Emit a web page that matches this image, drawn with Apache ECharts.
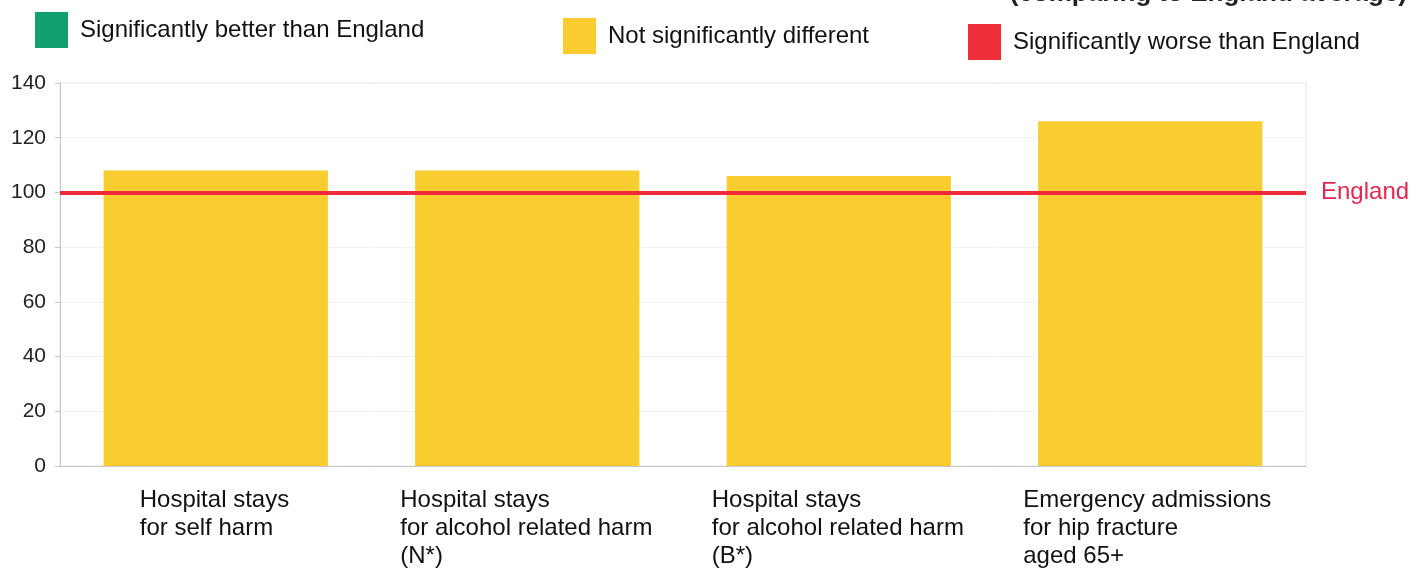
<!DOCTYPE html>
<html>
<head>
<meta charset="utf-8">
<script src="https://cdn.jsdelivr.net/npm/echarts@6/dist/echarts.min.js"></script>
<style>
html,body{margin:0;padding:0;background:#fff;}
#chart{width:1424px;height:573px;}
</style>
</head>
<body>
<div id="chart"></div>
<script>
const categories = [
  "Hospital stays\nfor self harm",
  "Hospital stays\nfor alcohol related harm\n(N*)",
  "Hospital stays\nfor alcohol related harm\n(B*)",
  "Emergency admissions\nfor hip fracture\naged 65+"
];
const values = [108, 108, 106, 126];
const englandValue = 100;
const legendNames = ["Significantly better than England", "Not significantly different", "Significantly worse than England"];
const legendColors = ["#12A071", "#F9CD2F", "#EE2D3A"];
const titleText = "(comparing to England average)";

const chart = echarts.init(document.getElementById('chart'));
const FONT = 'Liberation Sans, Arial, sans-serif';

function mkLegend(i, left, top) {
  return {
    data: [legendNames[i]],
    left: left, top: top, padding: 0,
    icon: 'rect', itemWidth: 33, itemHeight: 36,
    selectedMode: false,
    textStyle: {fontFamily: FONT, fontSize: 24, color: '#111', padding: [7, 0, 0, 7]}
  };
}

chart.setOption({
  animation: false,
  title: {
    text: titleText, right: 12, top: -24,
    textStyle: {fontFamily: FONT, fontSize: 26, fontWeight: 'bold', color: '#222'}
  },
  legend: [mkLegend(0, 35, 12), mkLegend(1, 563, 18), mkLegend(2, 968, 24)],
  grid: {left: 60, right: 118, top: 83, bottom: 107, show: true, borderColor: '#e4e4e4', borderWidth: 1},
  xAxis: {
    type: 'category', data: categories,
    axisLine: {lineStyle: {color: '#c8c8c8'}},
    axisTick: {show: false},
    axisLabel: {
      interval: 0, margin: 20,
      formatter: function (v, idx) { return '{' + (idx === 0 ? 'a' : 'b') + '|' + v + '}'; },
      rich: {
        a: {width: 152, align: 'left', fontFamily: FONT, fontSize: 24, color: '#111', lineHeight: 28},
        b: {width: 254, align: 'left', fontFamily: FONT, fontSize: 24, color: '#111', lineHeight: 28}
      }
    }
  },
  yAxis: {
    type: 'value', min: 0, max: 140, interval: 20,
    axisLine: {show: true, lineStyle: {color: '#c8c8c8'}},
    axisTick: {show: true, length: 5, lineStyle: {color: '#c8c8c8'}},
    axisLabel: {fontFamily: FONT, fontSize: 21, color: '#222', margin: 14},
    splitLine: {show: true, lineStyle: {color: '#f2f2f2'}}
  },
  series: [
    {name: legendNames[0], type: 'line', data: [], itemStyle: {color: legendColors[0]}},
    {
      name: legendNames[1], type: 'bar', data: values, barWidth: '72%',
      itemStyle: {color: legendColors[1]},
      markLine: {
        silent: true, symbol: 'none',
        data: [{yAxis: englandValue}],
        lineStyle: {color: '#EE2A3A', width: 4, type: 'solid'},
        label: {show: true, position: 'end', formatter: 'England', distance: 15,
                fontFamily: FONT, fontSize: 24, color: '#E3284F'}
      }
    },
    {name: legendNames[2], type: 'line', data: [], itemStyle: {color: legendColors[2]}}
  ]
});
</script>
</body>
</html>
